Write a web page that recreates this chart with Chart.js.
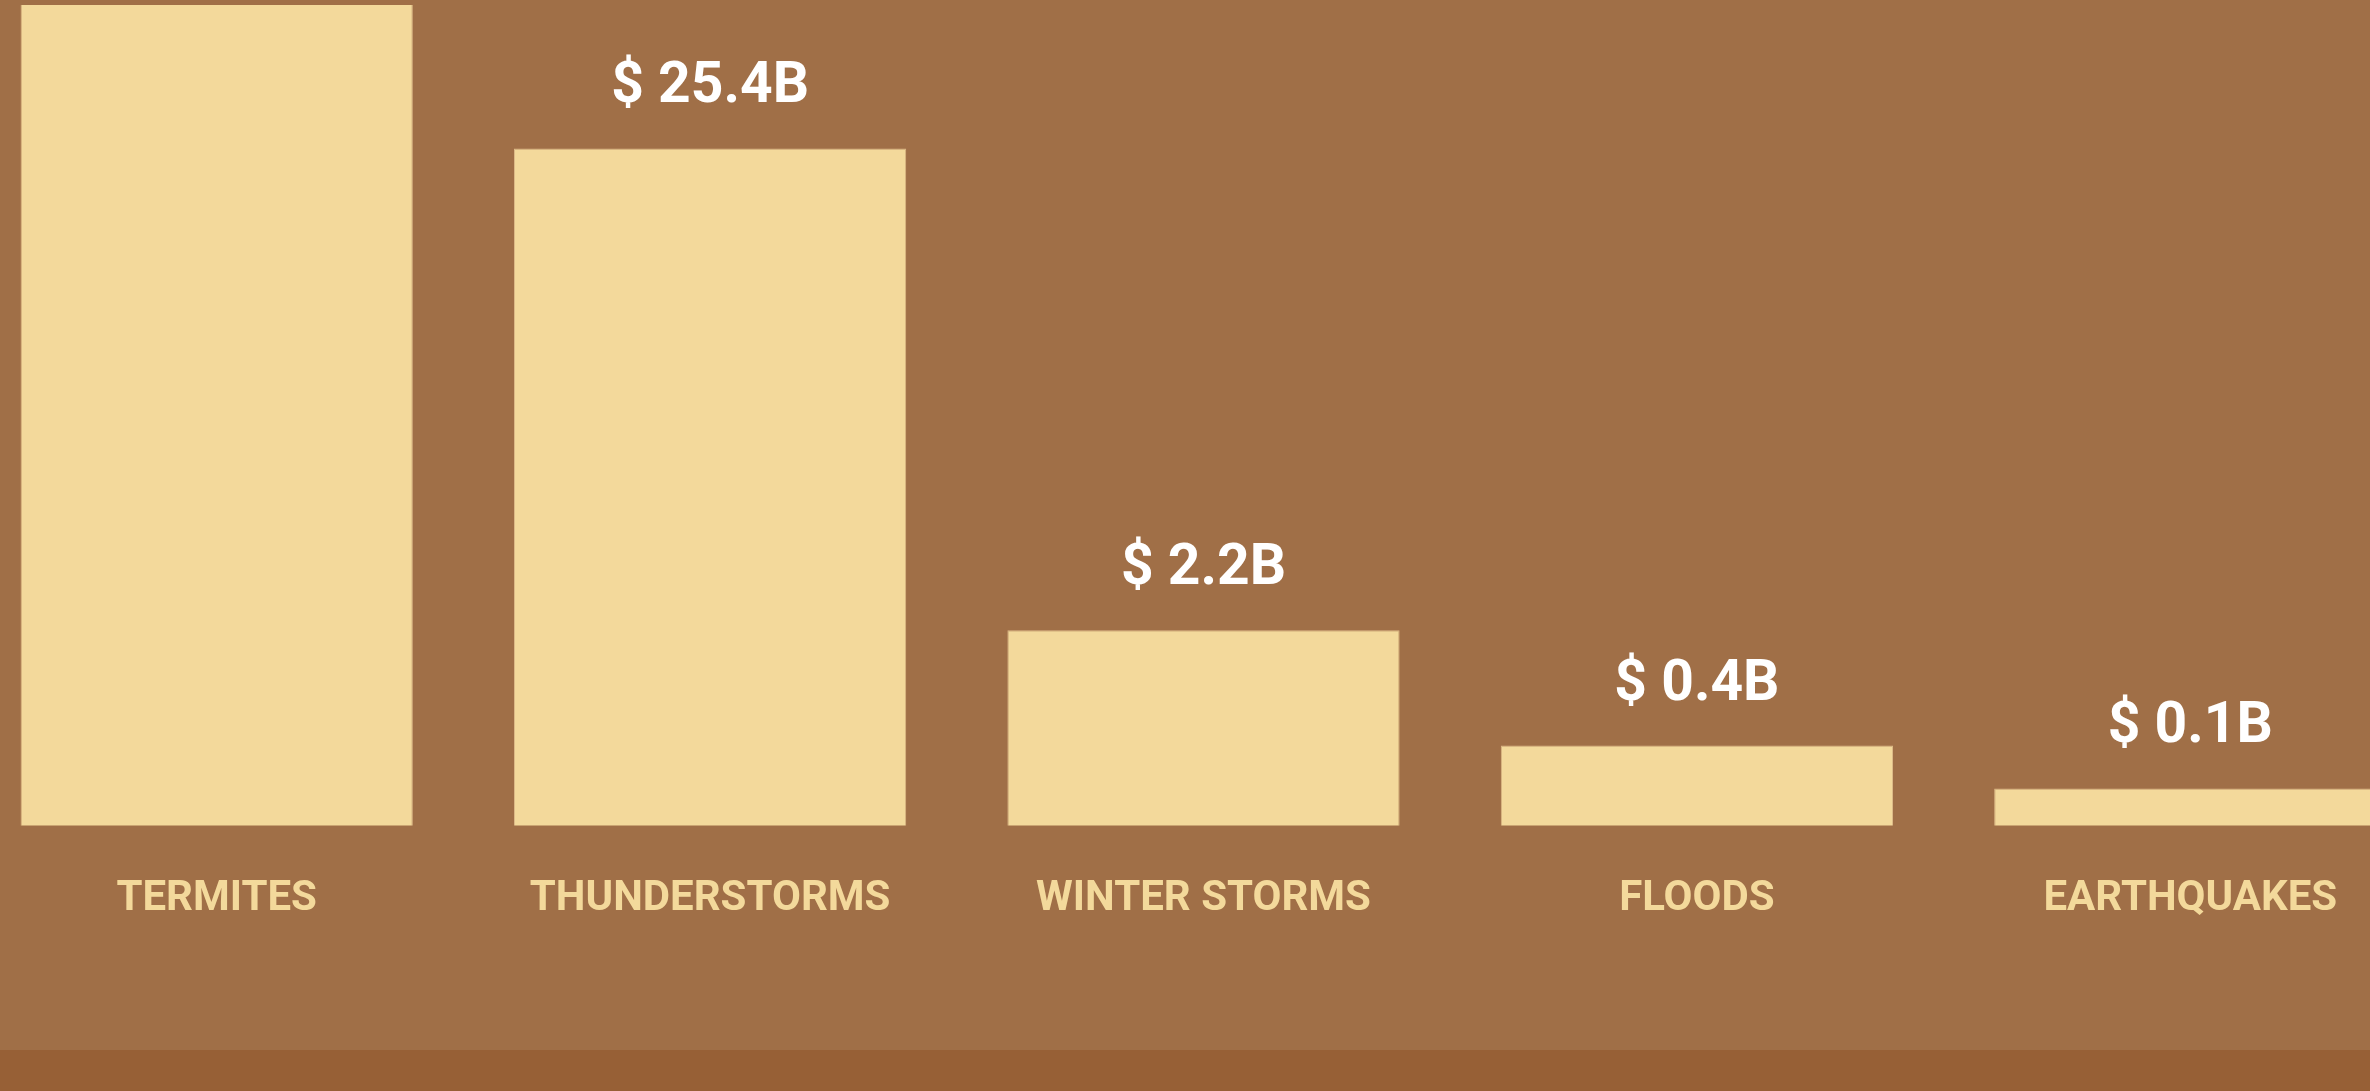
<!DOCTYPE html>
<html>
<head>
<meta charset="utf-8">
<script src="https://cdn.jsdelivr.net/npm/chart.js@4.4.1/dist/chart.umd.min.js"></script>
<style>
  html, body { margin: 0; padding: 0; width: 2370px; height: 1091px; overflow: hidden; background: #976036; }
  #wrap { position: absolute; left: 0; top: 0; width: 2370px; height: 1050px; background: #a06f47; overflow: hidden; }
  #c { position: absolute; left: -30px; top: 0; }
</style>
</head>
<body>
<div id="wrap"><canvas id="c" width="2467" height="1050"></canvas></div>
<script>
// Categories and values (billions of US dollars)
const categories = ['TERMITES', 'THUNDERSTORMS', 'WINTER STORMS', 'FLOODS', 'EARTHQUAKES'];
const damageBillions = [40, 25.4, 2.2, 0.4, 0.1];
const valueLabels = damageBillions.map(v => '$ ' + v.toFixed(1) + 'B');

// Bars are drawn on a square-root scale of the damage value
const barHeights = damageBillions.map(v => Math.sqrt(v));

const valueLabelPlugin = {
  id: 'valueLabels',
  afterDatasetsDraw(chart) {
    const ctx = chart.ctx;
    const meta = chart.getDatasetMeta(0);
    ctx.save();
    ctx.fillStyle = '#ffffff';
    ctx.font = 'bold 57px Roboto';
    ctx.textAlign = 'center';
    ctx.textBaseline = 'alphabetic';
    meta.data.forEach((bar, i) => {
      ctx.fillText(valueLabels[i], bar.x, bar.y - 46);
    });
    ctx.restore();
  }
};

new Chart(document.getElementById('c'), {
  type: 'bar',
  data: {
    labels: categories,
    datasets: [{
      data: barHeights,
      backgroundColor: '#f3d99b',
      borderColor: '#dcb987',
      borderWidth: 1,
      categoryPercentage: 1.0,
      barPercentage: 0.795
    }]
  },
  options: {
    responsive: false,
    animation: false,
    devicePixelRatio: 1,
    layout: { padding: { top: 5, left: 0, right: 0, bottom: 0 } },
    plugins: { legend: { display: false }, tooltip: { enabled: false } },
    scales: {
      x: {
        grid: { display: false, drawTicks: false },
        border: { display: false },
        ticks: {
          color: '#f3d99b',
          font: { family: 'Roboto', size: 42, weight: 'bold' },
          padding: 49,
          maxRotation: 0,
          autoSkip: false
        },
        afterFit(scale) { scale.height = 224.5; }
      },
      y: {
        display: false,
        min: 0.043,
        max: 6.098
      }
    }
  },
  plugins: [valueLabelPlugin]
});
</script>
</body>
</html>
